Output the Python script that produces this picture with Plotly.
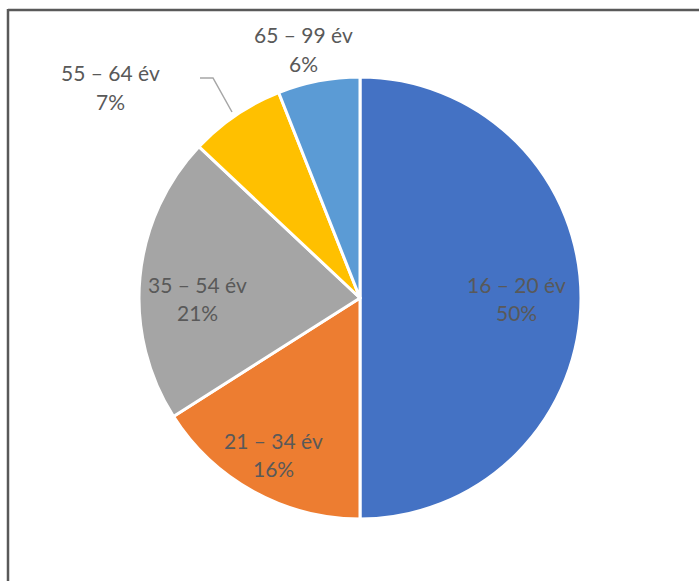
import math
import plotly.graph_objects as go

categories = ["16 – 20 év", "21 – 34 év", "35 – 54 év", "55 – 64 év", "65 – 99 év"]
values = [50, 16, 21, 7, 6]
colors = ["#4472C4", "#ED7D31", "#A5A5A5", "#FFC000", "#5B9BD5"]

W, H = 699, 581
cx, cy, r = 360, 298, 221  # pixel center / radius

fig = go.Figure(go.Pie(
    labels=categories, values=values, sort=False, direction="clockwise",
    rotation=0, marker=dict(colors=colors, line=dict(color="white", width=3)),
    textinfo="none", hoverinfo="label+percent", showlegend=False,
    domain=dict(x=[(cx - r) / W, (cx + r) / W], y=[(H - cy - r) / H, (H - cy + r) / H]),
))

# label placement: radial fraction for inside labels; fixed pixel centers for outside
label_pos = {0: ("in", 0.71), 1: ("in", 0.81), 2: ("in", 0.74),
             3: ("px", (110, 87)), 4: ("px", (303, 49))}
font = dict(family="Lato, Carlito, Calibri, sans-serif", size=21, color="#595959")
total = sum(values)
cum = 0
annotations = []
for i, (cat, v) in enumerate(zip(categories, values)):
    mid = (cum + v / 2) / total * 2 * math.pi
    cum += v
    kind, p = label_pos[i]
    if kind == "in":
        px = cx + p * r * math.sin(mid)
        py = cy - p * r * math.cos(mid)
        if i == 2:
            py = cy
    else:
        px, py = p
    pct = round(v / total * 100)
    for txt, dy in ((cat, -14), (f"{pct}%", 14)):
        annotations.append(dict(
            x=px / W, y=1 - (py + dy) / H, xref="paper", yref="paper", showarrow=False,
            text=txt, font=font, xanchor="center", yanchor="middle",
        ))

shapes = [
    # chart frame (left & top edges visible)
    dict(type="line", xref="paper", yref="paper", x0=8 / W, x1=8 / W, y0=0, y1=1 - 9 / H,
         line=dict(color="#595959", width=2.5)),
    dict(type="line", xref="paper", yref="paper", x0=8 / W, x1=1, y0=1 - 10 / H, y1=1 - 10 / H,
         line=dict(color="#595959", width=2.5)),
    # leader line for 55 – 64 év
    dict(type="path", xref="paper", yref="paper",
         path=f"M {200/W},{1-78/H} L {213/W},{1-78/H} L {232/W},{1-112/H}",
         line=dict(color="#A6A6A6", width=1.5)),
]

fig.update_layout(
    width=W, height=H, margin=dict(l=0, r=0, t=0, b=0),
    paper_bgcolor="white", plot_bgcolor="white",
    annotations=annotations, shapes=shapes,
)
fig.write_html("out.html")
